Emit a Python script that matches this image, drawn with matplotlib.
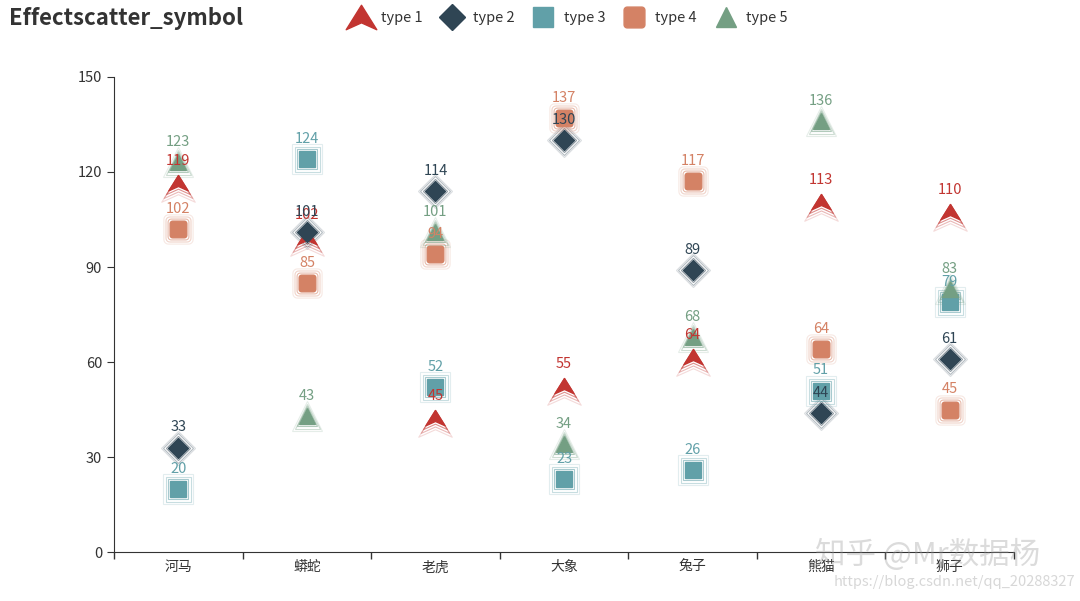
import numpy as np
import matplotlib
matplotlib.use("Agg")
import matplotlib.pyplot as plt
from matplotlib.path import Path
from matplotlib.lines import Line2D

plt.rcParams['font.family'] = ['Noto Sans CJK SC', 'DejaVu Sans']

# data
categories = ['河马', '蟒蛇', '老虎', '大象', '兔子', '熊猫', '狮子']
type1 = [119, 102, 45, 55, 64, 113, 110]
type2 = [33, 101, 114, 130, 89, 44, 61]
type3 = [20, 124, 52, 23, 26, 51, 79]
type4 = [102, 85, 94, 137, 117, 64, 45]
type5 = [123, 43, 101, 34, 68, 136, 83]
series_names = ['type 1', 'type 2', 'type 3', 'type 4', 'type 5']
colors = ['#c23531', '#2f4554', '#61a0a8', '#d48265', '#749f83']


# marker shapes
def arrow_path(top=0.0):
    # tip near the data point, body hangs below (echarts arrow look)
    verts = [(0, top), (1, top - 1.6), (0, top - 1.15), (-1, top - 1.6), (0, top)]
    codes = [Path.MOVETO, Path.LINETO, Path.LINETO, Path.LINETO, Path.CLOSEPOLY]
    return Path(verts, codes)


def round_rect_path(r=0.3):
    pts = []
    for cx, cy, a0 in [(1 - r, 1 - r, 0), (-1 + r, 1 - r, 90),
                       (-1 + r, -1 + r, 180), (1 - r, -1 + r, 270)]:
        for a in np.linspace(a0, a0 + 90, 6):
            t = np.radians(a)
            pts.append((cx + r * np.cos(t), cy + r * np.sin(t)))
    pts.append(pts[0])
    codes = [Path.MOVETO] + [Path.LINETO] * (len(pts) - 2) + [Path.CLOSEPOLY]
    return Path(pts, codes)


markers = [arrow_path(), 'D', 's', round_rect_path(), '^']
sizes = [22, 10, 12, 12, 12]
label_offsets = [10, 14.5, 14.5, 14.5, 14.5]
all_series = [type1, type2, type3, type4, type5]

fig = plt.figure(figsize=(10.8, 6.01), dpi=100)
ax = fig.add_axes([0.1056, 0.0815, 0.8333, 0.7904])

x = np.arange(len(categories))
for vals, mk, ms, col, off in zip(all_series, markers, sizes, colors, label_offsets):
    # ripple rings
    for scale, alpha in [(1.25, 0.55), (1.5, 0.35), (1.75, 0.18)]:
        ax.plot(x, vals, linestyle='none', marker=mk, markersize=ms * scale,
                markerfacecolor='none', markeredgecolor=col, markeredgewidth=0.8,
                alpha=alpha, zorder=2)
    ax.plot(x, vals, linestyle='none', marker=mk, markersize=ms,
            markerfacecolor=col, markeredgecolor=col, zorder=3)
    for xi, v in zip(x, vals):
        ax.annotate(str(v), (xi, v), xytext=(0, off), textcoords='offset points',
                    ha='center', va='center', fontsize=10.5, color=col, zorder=4)

ax.set_xlim(-0.5, len(categories) - 0.5)
ax.set_ylim(0, 150)
ax.set_yticks(range(0, 151, 30))
ax.set_xticks(np.arange(-0.5, len(categories)), labels=[''] * (len(categories) + 1))
ax.set_xticks(x, labels=categories, minor=True)
ax.tick_params(axis='x', which='major', length=5, color='#333333', width=1)
ax.tick_params(axis='x', which='minor', length=0, labelsize=10, labelcolor='#333333', pad=6)
ax.tick_params(axis='y', length=5, color='#333333', labelsize=10.5, labelcolor='#333333')
for s in ['top', 'right']:
    ax.spines[s].set_visible(False)
for s in ['left', 'bottom']:
    ax.spines[s].set_color('#333333')

fig.text(0.008, 0.97, 'Effectscatter_symbol', fontsize=16, fontweight='bold',
         color='#333333', ha='left', va='center')

legend_markers = [arrow_path(0.8), 'D', 's', round_rect_path(), '^']
handles = [Line2D([], [], linestyle='none', marker=mk, markersize=ms,
                  markerfacecolor=col, markeredgecolor=col)
           for mk, ms, col in zip(legend_markers, [22, 13, 15, 15, 15], colors)]
fig.legend(handles, series_names, loc='center', bbox_to_anchor=(0.525, 0.97), ncol=5,
           frameon=False, fontsize=10.5, handletextpad=0.4, columnspacing=1.0,
           labelcolor='#333333')

# watermark
fig.text(0.755, 0.077, '知乎 @Mr数据杨', fontsize=22, color='#9a9a9a', alpha=0.35,
         ha='left', va='center')
fig.text(0.772, 0.032, 'https://blog.csdn.net/qq_20288327', fontsize=10.5,
         color='#bdbdbd', alpha=0.6, ha='left', va='center')

fig.savefig('out.png', dpi=100)
